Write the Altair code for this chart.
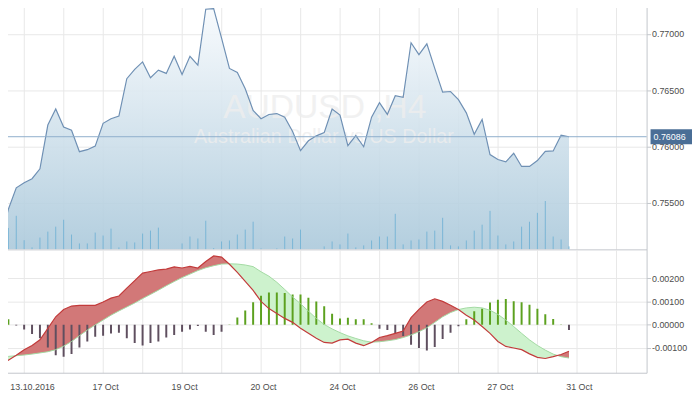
import json
import altair as alt
import pandas as pd

# ---------------- data ----------------
price = [0.7518, 0.75441, 0.75632, 0.75678, 0.75713, 0.75801, 0.7619, 0.76333, 0.76172, 0.76143,
         0.75953, 0.75971, 0.76003, 0.76205, 0.76246, 0.76269, 0.76602, 0.76684, 0.76751, 0.76611,
         0.76678, 0.76649, 0.76801, 0.7664, 0.76801, 0.76722, 0.77219, 0.77225, 0.76962, 0.76693,
         0.76658, 0.76512, 0.76319, 0.76246, 0.76284, 0.76292, 0.7626, 0.76132, 0.75962, 0.7605,
         0.76094, 0.76123, 0.76333, 0.76278, 0.76006, 0.76096, 0.75997, 0.7626, 0.76389, 0.76284,
         0.7645, 0.76436, 0.76921, 0.76816, 0.76912, 0.76693, 0.76482, 0.76488, 0.76415, 0.76298,
         0.76108, 0.7624, 0.75927, 0.75883, 0.75863, 0.75939, 0.75822, 0.75822, 0.75874, 0.75956,
         0.7596, 0.761, 0.76086]

volume = [12, 21.7, 34, 9.3, 2, 12, 18, 23, 30, 15,
          6, 6, 17, 14, 21, 2, 8, 7, 16, 19,
          22, 0, 0, 6, 13, 11, 29, 1.3, 8, 9,
          15, 20, 28, 1, 0, 1, 13, 11, 20, 0,
          0, 3, 8, 5, 16, 2, 4, 9, 13, 13,
          36, 5, 9, 10, 18, 19, 32, 4, 3, 9,
          19, 25, 39, 14, 5, 8, 23, 28, 37, 49,
          13, 10, 3]

macd = [-0.00166, -0.00152, -0.00131, -0.00107, -0.00089, -0.00065, -0.00016, 0.00034, 0.00065, 0.0008,
        0.00083, 0.00083, 0.00083, 0.00097, 0.00114, 0.00123, 0.00157, 0.00189, 0.00221, 0.00228,
        0.00235, 0.00238, 0.00248, 0.00243, 0.0025, 0.00243, 0.00271, 0.00295, 0.0029, 0.00259,
        0.00224, 0.00186, 0.00147, 0.001, 0.00069, 0.00048, 0.00027, 0.0001, -0.00015, -0.00037,
        -0.00058, -0.00076, -0.00079, -0.00065, -0.00062, -0.00079, -0.0009, -0.00076, -0.00055, -0.00047,
        -0.00037, -0.00027, 0.0003, 0.00066, 0.00097, 0.00111, 0.001, 0.00083, 0.00065, 0.00041,
        0.0002, -0.00008, -0.00037, -0.00072, -0.00093, -0.001, -0.00107, -0.00125, -0.0014, -0.00145,
        -0.00137, -0.00128, -0.00114]

signal = [-0.00137, -0.00136, -0.00133, -0.0013, -0.00126, -0.00121, -0.00116, -0.00107, -0.00092, -0.00072,
          -0.00047, -0.00023, -0.00001, 0.0002, 0.00041, 0.00059, 0.00076, 0.00093, 0.00112, 0.0013,
          0.00148, 0.00167, 0.00185, 0.00202, 0.00217, 0.00232, 0.00244, 0.00253, 0.0026, 0.00261,
          0.0026, 0.00256, 0.00249, 0.00227, 0.00208, 0.00182, 0.00151, 0.00119, 0.0009, 0.00058,
          0.00027, 0.00001, -0.00018, -0.00034, -0.00048, -0.00059, -0.00069, -0.00075, -0.00073, -0.00069,
          -0.00064, -0.00055, -0.00044, -0.0003, -0.00013, 0.0001, 0.00034, 0.00052, 0.00065, 0.00072,
          0.00075, 0.00072, 0.00062, 0.00044, 0.0002, -0.00008, -0.00037, -0.00065, -0.00089, -0.00109,
          -0.00126, -0.00137, -0.00143]

hist = [0.00025, 0.00023, -0.00003, -0.00021, -0.0004, -0.00058, -0.00098, -0.00131, -0.00137, -0.00126,
        -0.00098, -0.00072, -0.00052, -0.00047, -0.00038, -0.00035, -0.00058, -0.00078, -0.00089, -0.00079,
        -0.00072, -0.00055, -0.00044, -0.0003, -0.00021, -0.00006, -0.0003, -0.00044, -0.0003, 0.00001,
        0.00031, 0.00061, 0.00096, 0.00124, 0.00138, 0.00138, 0.00136, 0.0013, 0.00129, 0.00116,
        0.00099, 0.00079, 0.00047, 0.00027, 0.0003, 0.00023, 0.00023, 0.00006, -0.00017, -0.00023,
        -0.00037, -0.00048, -0.00086, -0.001, -0.00111, -0.00096, -0.00061, -0.00035, -0.00007, 0.00023,
        0.00058, 0.00068, 0.00095, 0.00107, 0.0011, 0.001, 0.00096, 0.00085, 0.00068, 0.00045,
        0.00024, 0.00001, -0.00023]

last_price = 0.76086
label_idx = [3, 13, 23, 33, 43, 53, 63, 73]
label_txt = ["13.10.2016", "17 Oct", "19 Oct", "20 Oct", "24 Oct", "26 Oct", "27 Oct", "31 Oct"]
grid_idx = list(range(3, 79, 5))
price_ticks = [0.755, 0.760, 0.765, 0.770]
macd_ticks = [-0.001, 0.0, 0.001, 0.002]
title_main = "AUDUSD ,H4"
title_sub = "Australian Dollar vs US Dollar"

# ---------------- layout / style ----------------
W, H1, H2 = 654, 250, 125
x_domain = [0.08, 81.83]
price_domain = [0.75085, 0.77278]
vol_domain = [0, 250]
macd_domain = [-0.00206, 0.00323]
FONT = "Liberation Sans"
GRID = "#e8e8e8"
AXISC = "#c2c6cb"
LABC = "#4d4d4d"

n = len(price)
df = pd.DataFrame({"i": list(range(n)), "price": price, "vol": volume,
                   "macd": macd, "sig": signal, "hist": hist})
df_last = pd.DataFrame({"price": [last_price], "label": [f"{last_price:.5f}"]})

# fill between MACD and signal, with crossing points inserted
rows = []
for k in range(n):
    rows.append((float(k), macd[k], signal[k]))
    if k < n - 1:
        d0 = macd[k] - signal[k]
        d1 = macd[k + 1] - signal[k + 1]
        if d0 * d1 < 0:
            t = d0 / (d0 - d1)
            yc = signal[k] + t * (signal[k + 1] - signal[k])
            rows.append((k + t, yc, yc))
fill = pd.DataFrame(rows, columns=["i", "macd", "sig"])
fill["hi"] = fill[["macd", "sig"]].max(axis=1)
fill["lo"] = fill[["macd", "sig"]].min(axis=1)

lab_map = dict(zip(label_idx, label_txt))
label_expr = json.dumps([lab_map.get(v, "") for v in grid_idx]) + \
    f"[round((datum.value - {grid_idx[0]}) / 5)]"

XS = alt.Scale(domain=x_domain, nice=False, zero=False)
XT = alt.X("i:Q", scale=XS,
           axis=alt.Axis(values=grid_idx, labels=False, ticks=False, domain=True,
                         domainColor=AXISC, grid=True, gridColor=GRID, title=None))
XB = alt.X("i:Q", scale=XS,
           axis=alt.Axis(values=grid_idx, labelExpr=label_expr, labelOverlap=False,
                         labelFlush=False, ticks=False, tickSize=0, labelPadding=10,
                         labelOffset={"condition": {"test": f"datum.value == {label_idx[0]}",
                                                    "value": 8}, "value": 2},
                         domainColor=AXISC, gridColor=GRID, grid=True, title=None))

PS = alt.Scale(domain=price_domain, nice=False, zero=False)
PAX = alt.Axis(orient="right", values=price_ticks, format=".5f", tickSize=4,
               tickColor=AXISC, domainColor=AXISC, gridColor=GRID, labelPadding=1,
               title=None)
YP = alt.Y("price:Q", scale=PS, axis=PAX)

MS = alt.Scale(domain=macd_domain, nice=False, zero=False)
MAX = alt.Axis(orient="right", values=macd_ticks,
               labelExpr="(datum.value < -1e-9 ? '-' : '') + format(abs(datum.value), '.5f')",
               tickSize=4, tickColor=AXISC, domainColor=AXISC, gridColor=GRID,
               labelPadding=1, title=None)


def ym(field):
    return alt.Y(f"{field}:Q", scale=MS, axis=MAX)


grad = alt.Gradient(gradient="linear",
                    stops=[alt.GradientStop(color="#f7fafd", offset=0),
                           alt.GradientStop(color="#abc9db", offset=1)],
                    x1=1, x2=1, y1=0, y2=1)

area = alt.Chart(df).mark_area(clip=True, opacity=0.9, color=grad).encode(
    x=XT, y=YP, y2=alt.datum(price_domain[0]))
wm1 = alt.Chart(pd.DataFrame({"t": [title_main]})).mark_text(
    font=FONT, fontSize=34, color="#eeeeee", opacity=0.8, align="center",
    baseline="alphabetic").encode(x=alt.value(328), y=alt.value(117), text="t:N")
wm2 = alt.Chart(pd.DataFrame({"t": [title_sub]})).mark_text(
    font=FONT, fontSize=20, color="#eeeeee", opacity=0.8, align="center",
    baseline="alphabetic").encode(x=alt.value(327), y=alt.value(142), text="t:N")
pline = alt.Chart(df).mark_line(clip=True, color="#6f90b4", strokeWidth=1.2).encode(x=XT, y=YP)
prule = alt.Chart(df_last).mark_rule(color="#8eaecb", strokeWidth=1).encode(y=YP)
badge = alt.Chart(df_last).mark_tick(orient="horizontal", size=42, thickness=15,
                                     color="#4a6e96", opacity=1).encode(x=alt.value(679), y=YP)
btxt = alt.Chart(df_last).mark_text(align="left", baseline="middle", color="white",
                                    font=FONT, fontSize=9).encode(
    x=alt.value(661), y=YP, text="label:N")
vol = alt.Chart(df).mark_rule(clip=True, color="#79b5d5", strokeWidth=1).encode(
    x=XT, y=alt.Y("vol:Q", scale=alt.Scale(domain=vol_domain), axis=None),
    y2=alt.datum(0))

price_layer = alt.layer(area, wm1, wm2, pline, prule, badge, btxt)
top = alt.layer(price_layer, vol).resolve_scale(y="independent").properties(width=W, height=H1)

green = alt.Chart(fill).mark_area(clip=True, color="#cdf2cd").encode(x=XB, y=ym("sig"), y2="lo:Q")
red = alt.Chart(fill).mark_area(clip=True, color="#d27878").encode(x=XB, y=ym("sig"), y2="hi:Q")
histo = alt.Chart(df).mark_rule(clip=True, strokeWidth=2).encode(
    x=XB, y=ym("hist"), y2=alt.datum(0),
    color=alt.condition("datum.hist > 0", alt.value("#5ca11f"), alt.value("#5f4f5f")))
sline = alt.Chart(df).mark_line(clip=True, color="#a3d9a3", strokeWidth=1).encode(x=XB, y=ym("sig"))
mline = alt.Chart(df).mark_line(clip=True, color="#c23b3b", strokeWidth=1.2).encode(x=XB, y=ym("macd"))
bottom = alt.layer(green, red, histo, sline, mline).properties(width=W, height=H2)

chart = alt.vconcat(top, bottom, spacing=0, bounds="flush").properties(
    padding={"left": -8, "top": -8, "right": 0, "bottom": 0}
).configure_view(stroke=None).configure_axis(
    labelFont=FONT, labelFontSize=9, labelColor=LABC)

chart.save("out.html", embed_options={"renderer": "svg", "actions": False})
